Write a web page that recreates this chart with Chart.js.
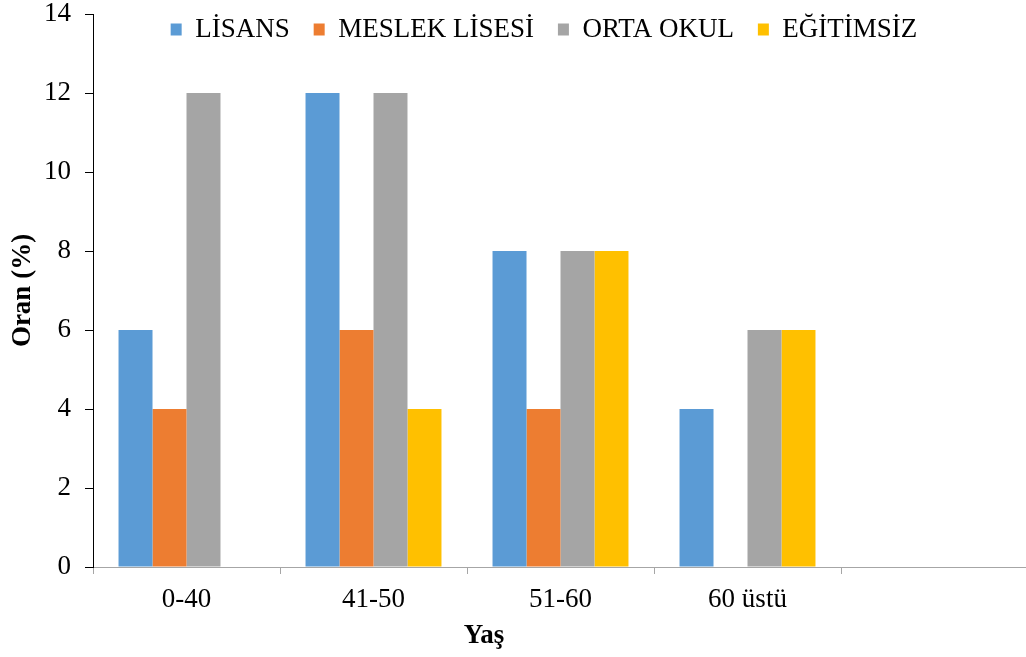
<!DOCTYPE html>
<html>
<head>
<meta charset="utf-8">
<script src="https://cdn.jsdelivr.net/npm/chart.js@4.4.1/dist/chart.umd.min.js"></script>
<style>
  html, body { margin: 0; padding: 0; overflow: hidden; background: #fff; }
  #wrap { width: 1028px; height: 657px; }
</style>
</head>
<body>
<div id="wrap"><canvas id="c" width="1028" height="657"></canvas></div>
<script>
const categories = ['0-40', '41-50', '51-60', '60 üstü', ''];
const lisans = [6, 12, 8, 4, null];
const meslekLisesi = [4, 6, 4, 0, null];
const ortaOkul = [12, 12, 8, 6, null];
const egitimsiz = [0, 4, 8, 6, null];
const seriesNames = ['LİSANS', 'MESLEK LİSESİ', 'ORTA OKUL', 'EĞİTİMSİZ'];
const seriesColors = ['#5B9BD5', '#ED7D31', '#A5A5A5', '#FFC000'];
const yTitle = 'Oran (%)';
const xTitle = 'Yaş';

const FONT = "'Liberation Serif', 'Times New Roman', serif";

const xTitlePlugin = {
  id: 'xTitlePlugin',
  afterDraw(chart) {
    const ctx = chart.ctx;
    ctx.save();
    ctx.font = "bold 27px " + FONT;
    ctx.fillStyle = '#000';
    ctx.textAlign = 'center';
    ctx.textBaseline = 'middle';
    ctx.fillText(xTitle, 484, 636);
    ctx.restore();
  }
};

// Legend is drawn over the plot area (as in the reference) without taking layout space
const legendPlace = {
  id: 'legendPlace',
  beforeLayout(chart) {
    const lg = chart.legend;
    if (lg && !lg._noSpace) {
      const origFit = lg.fit.bind(lg);
      lg.fit = function () { origFit(); this.height = 0; };
      lg._noSpace = true;
    }
  },
  beforeDraw(chart) {
    const lg = chart.legend;
    if (lg) {
      lg.top = -8;
      lg.bottom = 80;
      lg.left = 60;
      lg.right = 1028;
    }
  }
};

const allSeries = [lisans, meslekLisesi, ortaOkul, egitimsiz];

new Chart(document.getElementById('c'), {
  type: 'bar',
  data: {
    labels: categories,
    datasets: allSeries.map((d, i) => ({
      label: seriesNames[i],
      data: d,
      backgroundColor: seriesColors[i],
      borderWidth: 0,
      barPercentage: 1,
      categoryPercentage: 0.727
    }))
  },
  options: {
    responsive: false,
    animation: false,
    layout: { padding: { top: 0, left: 0, right: 0, bottom: 0 } },
    plugins: {
      legend: {
        position: 'top',
        align: 'center',
        labels: {
          color: '#000',
          font: { family: FONT, size: 27 },
          boxWidth: 11,
          boxHeight: 12,
          padding: 24
        }
      },
      tooltip: { enabled: false }
    },
    scales: {
      x: {
        grid: {
          display: true,
          drawOnChartArea: false,
          drawTicks: true,
          tickLength: 7,
          color: '#A6A6A6',
          offset: true
        },
        border: { display: true, color: '#A6A6A6', width: 1 },
        ticks: {
          color: '#000',
          font: { family: FONT, size: 27 },
          padding: 10,
          maxRotation: 0,
          autoSkip: false
        },
        afterFit(s) { s.height = 90; }
      },
      y: {
        min: 0,
        max: 14,
        ticks: {
          stepSize: 2,
          color: '#000',
          font: { family: FONT, size: 27 },
          padding: 14
        },
        grid: {
          display: true,
          drawOnChartArea: false,
          drawTicks: true,
          tickLength: 8,
          color: '#000'
        },
        border: { display: true, color: '#000', width: 1 },
        title: {
          display: true,
          text: yTitle,
          color: '#000',
          font: { family: FONT, size: 27, weight: 'bold' },
          padding: { top: 7, bottom: 0 }
        },
        afterFit(s) { s.width = 93; s.paddingTop = 14; s.paddingBottom = 0; }
      }
    }
  },
  plugins: [legendPlace, xTitlePlugin]
});
</script>
</body>
</html>
